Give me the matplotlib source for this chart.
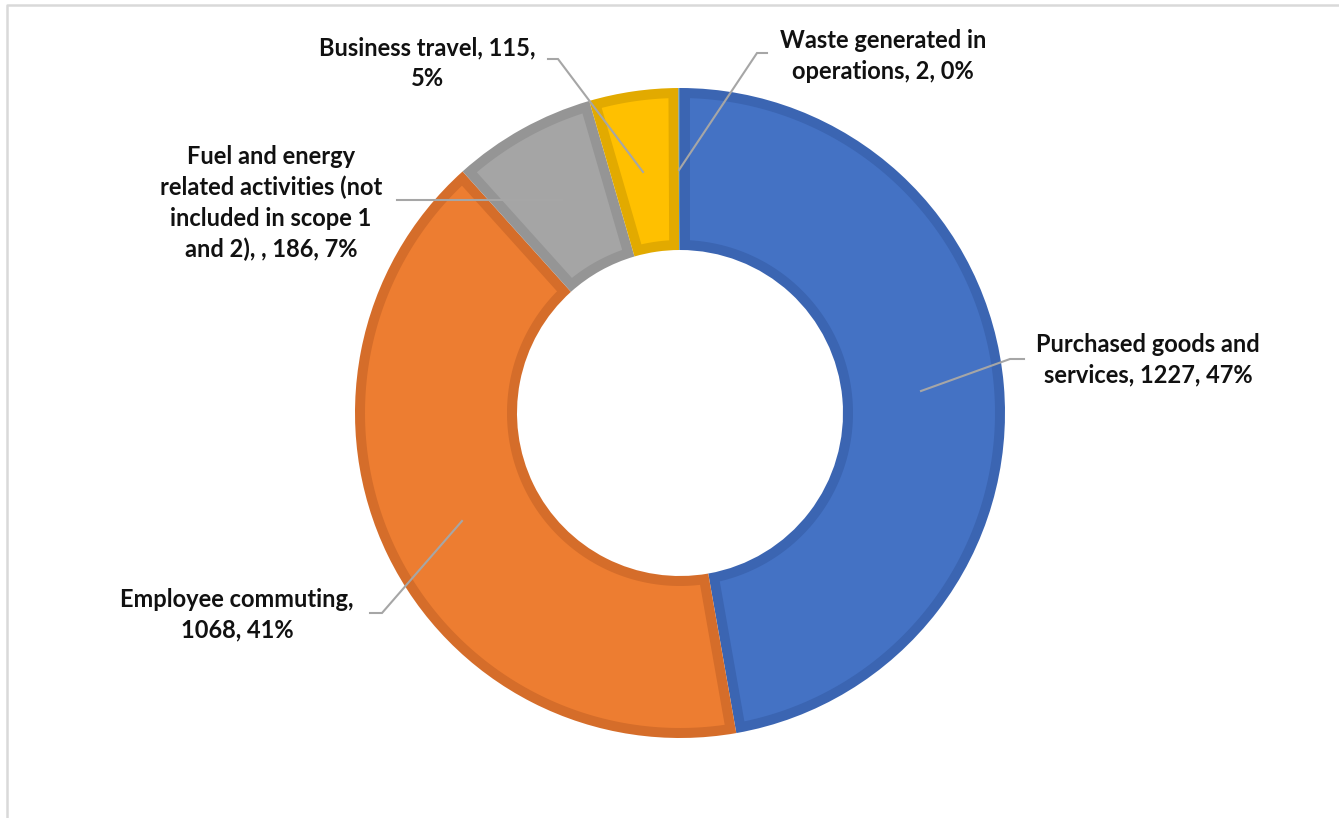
import numpy as np
import matplotlib.pyplot as plt
from matplotlib.patches import Polygon

# 数据
categories = ['Purchased goods and services', 'Employee commuting',
              'Fuel and energy related activities (not included in scope 1 and 2)',
              'Business travel', 'Waste generated in operations']
values = [1227, 1068, 186, 115, 2]
percents = ['47%', '41%', '7%', '5%', '0%']
labels = ['Purchased goods and\nservices, 1227, 47%',
          'Employee commuting,\n1068, 41%',
          'Fuel and energy\nrelated activities (not\nincluded in scope 1\nand 2), , 186, 7%',
          'Business travel, 115,\n5%',
          'Waste generated in\noperations, 2, 0%']
fill_colors = ['#4472C4', '#ED7D31', '#A5A5A5', '#FFC000', '#5B9BD5']
edge_colors = ['#3B65B2', '#D56D2A', '#959595', '#E2AA00', '#4E8AC2']

W, H = 1339, 818
fig = plt.figure(figsize=(W / 100, H / 100), dpi=100)
ax = fig.add_axes([0, 0, 1, 1])

# 圆环：先用描边色画整块，再在里面画缩进的填充色
wedges, _ = ax.pie(values, center=(680, H - 413), radius=325, startangle=90,
                   counterclock=False, colors=edge_colors, frame=True,
                   wedgeprops=dict(width=162, linewidth=0))

d = 10  # 内侧描边宽度（像素）
for w, fc in zip(wedges, fill_colors):
    cx, cy = w.center
    r_out, r_in = w.r - d, w.r - w.width + d
    t1, t2 = np.radians(w.theta1), np.radians(w.theta2)
    a_out, a_in = np.arcsin(d / r_out), np.arcsin(d / r_in)
    if t2 - t1 <= 2 * a_in:
        continue
    to = np.linspace(t1 + a_out, t2 - a_out, 200)
    ti = np.linspace(t2 - a_in, t1 + a_in, 200)
    xs = np.concatenate([cx + r_out * np.cos(to), cx + r_in * np.cos(ti)])
    ys = np.concatenate([cy + r_out * np.sin(to), cy + r_in * np.sin(ti)])
    ax.add_patch(Polygon(np.column_stack([xs, ys]), closed=True, facecolor=fc,
                         edgecolor='none'))

ax.set_xlim(0, W)
ax.set_ylim(0, H)
ax.axis('off')

# 标签位置（像素）
label_pos = [(1148, 360), (237, 615), (271, 203), (427, 63), (883, 56)]
leaders = [
    [(921, 391), (1010, 359), (1024, 359)],
    [(462, 521), (382, 613), (370, 613)],
    [(562, 200), (397, 200)],
    [(643, 172), (558, 59), (548, 59)],
    [(679, 170), (757, 53), (767, 53)],
]

for (x, y), txt in zip(label_pos, labels):
    ax.text(x, H - y, txt, ha='center', va='center', fontsize=17,
            fontweight='bold', family='Lato', color='#111111', linespacing=1.4)

for pts in leaders:
    ax.plot([p[0] for p in pts], [H - p[1] for p in pts], color='#A6A6A6', lw=1.5,
            solid_joinstyle='miter')

# 外框
ax.plot([7, 7, W + 10], [-10, H - 5, H - 5], color='#D9D9D9', lw=1.8, clip_on=False)

fig.savefig('out.png', dpi=100)
